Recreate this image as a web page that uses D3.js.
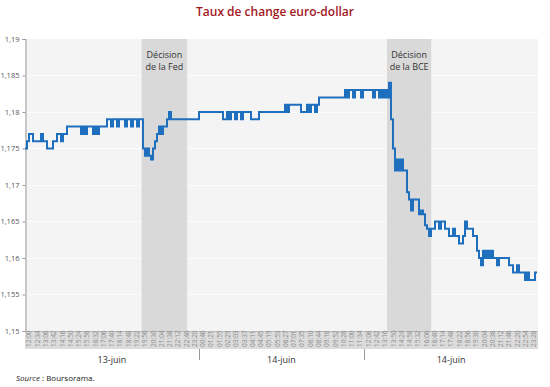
<!DOCTYPE html>
<html><head><meta charset="utf-8">
<script src="https://cdn.jsdelivr.net/npm/d3@7"></script>
<style>body{margin:0;background:#fff}svg{display:block}</style>
</head><body>
<svg id="c" width="550" height="387"></svg>
<script>
const title = "Taux de change euro-dollar";
const source = "Boursorama.";
const yTicks = [1.15, 1.155, 1.16, 1.165, 1.17, 1.175, 1.18, 1.185, 1.19];
const timeLabels = ["12:00","12:34","13:08","13:42","14:16","14:50","15:24","15:58","16:32","17:06","17:40","18:14","18:48","19:22","19:56","20:30","21:04","21:38","22:12","22:46","23:20",
  "00:46","01:21","01:55","02:29","03:03","03:37","04:11","04:45","05:19","05:53","06:27","07:01","07:35","08:10","08:44","09:18","09:52","10:26","11:00","11:34",
  "12:08","12:42","13:16","13:50","14:24","14:58","15:32","16:06","16:40","17:14","17:48","18:22","18:56","19:30","20:04","20:38","21:12","21:46","22:20","22:54","23:28"];
const dayLabels = ["13-juin", "14-juin", "14-juin"];
const dayStart = [0, 21, 41];
const dayEnd = [21, 41, 62];
const eventLine1 = ["Décision", "Décision"];
const eventLine2 = ["de la Fed", "de la BCE"];
const eventStart = [14.1, 43.75];
const eventEnd = [19.6, 49.1];
const rates = [
 1.175,1.176,1.177,1.177,1.176,1.176,1.176,1.176,1.177,1.176,1.176,1.175,1.175,1.175,1.176,1.176,1.177,1.177,1.176,1.177,
 1.177,1.178,1.178,1.178,1.178,1.178,1.178,1.178,1.177,1.178,1.177,1.178,1.178,1.178,1.177,1.178,1.177,1.178,1.178,1.178,
 1.178,1.179,1.179,1.178,1.179,1.179,1.178,1.179,1.179,1.179,1.178,1.179,1.179,1.178,1.179,1.179,1.178,1.179,1.179,1.175,
 1.174,1.175,1.174,1.1735,1.175,1.176,1.177,1.178,1.177,1.178,1.178,1.179,1.180,1.179,1.179,1.179,1.179,1.179,1.179,1.179,
 1.179,1.179,1.179,1.179,1.179,1.179,1.179,1.180,1.180,1.180,1.180,1.180,1.180,1.180,1.180,1.180,1.180,1.180,1.180,1.179,
 1.179,1.180,1.179,1.180,1.180,1.179,1.180,1.180,1.179,1.180,1.180,1.180,1.180,1.179,1.179,1.179,1.179,1.180,1.180,1.180,
 1.180,1.180,1.180,1.180,1.180,1.180,1.180,1.180,1.180,1.180,1.181,1.180,1.181,1.181,1.181,1.181,1.181,1.181,1.180,1.180,
 1.180,1.181,1.180,1.181,1.181,1.180,1.181,1.182,1.182,1.182,1.182,1.182,1.182,1.182,1.182,1.182,1.182,1.182,1.182,1.182,
 1.183,1.182,1.183,1.183,1.182,1.183,1.183,1.183,1.182,1.183,1.183,1.183,1.183,1.183,1.182,1.183,1.183,1.182,1.183,1.182,
 1.183,1.182,1.184,1.179,1.175,1.172,1.1735,1.172,1.1735,1.172,1.172,1.169,1.168,1.1665,1.168,1.168,1.168,1.166,1.1665,1.166,
 1.1645,1.164,1.163,1.164,1.164,1.165,1.165,1.164,1.165,1.165,1.164,1.164,1.163,1.163,1.164,1.163,1.163,1.162,1.162,1.163,
 1.165,1.164,1.164,1.164,1.163,1.163,1.161,1.160,1.159,1.161,1.160,1.161,1.160,1.161,1.160,1.160,1.159,1.160,1.160,1.160,
 1.160,1.160,1.159,1.159,1.158,1.158,1.159,1.158,1.158,1.158,1.157,1.158,1.157,1.157,1.157,1.158,1.158
];

const svg = d3.select("#c");
const font = "'Open Sans', 'Noto Sans', sans-serif";
const L = 25, R = 538, T = 39, B = 331;

const x = d3.scaleLinear().domain([0, timeLabels.length]).range([L, R]);
const xd = d3.scaleLinear().domain([0, rates.length - 1]).range([L, R - 1]);
const y = d3.scaleLinear().domain([1.15, 1.19]).range([B, T]);

// title
svg.append("text").attr("x", 275).attr("y", 16).attr("text-anchor", "middle")
  .attr("font-family", font).attr("font-size", 12).attr("font-weight", 600)
  .attr("fill", "#a3181d").text(title);

// plot background
svg.append("rect").attr("x", L).attr("y", T).attr("width", R - L).attr("height", B - T).attr("fill", "#f4f4f4");

// gridlines
svg.append("g").selectAll("line").data(yTicks.slice(1, -1)).join("line")
  .attr("x1", L).attr("x2", R).attr("y1", d => Math.round(y(d)) + 0.5).attr("y2", d => Math.round(y(d)) + 0.5)
  .attr("stroke", "#fcfcfc").attr("stroke-width", 1);

// event bands
svg.append("g").selectAll("rect").data(eventStart).join("rect")
  .attr("x", d => x(d)).attr("y", T).attr("width", (d, i) => x(eventEnd[i]) - x(d)).attr("height", B - T)
  .attr("fill", "#d9d9d9");

const ev = svg.append("g").attr("font-family", font).attr("font-size", 9).attr("fill", "#333").attr("text-anchor", "middle");
eventStart.forEach((s, i) => {
  const cx = (x(s) + x(eventEnd[i])) / 2;
  ev.append("text").attr("x", cx).attr("y", 58).text(eventLine1[i]);
  ev.append("text").attr("x", cx).attr("y", 70).text(eventLine2[i]);
});

// y axis
const yAxis = d3.axisLeft(y).tickValues(yTicks).tickSize(3).tickPadding(3)
  .tickFormat(d => d3.format(".3~f")(d).replace(".", ","));
const ga = svg.append("g").attr("transform", `translate(${L + 0.5},0)`).call(yAxis);
ga.select(".domain").attr("stroke", "#999");
ga.selectAll(".tick line").attr("stroke", "#999");
ga.selectAll("text").attr("font-family", font).attr("font-size", 7.5).attr("fill", "#555");

// x label band
svg.append("rect").attr("x", L).attr("y", B).attr("width", R - L).attr("height", 18).attr("fill", "#dcdcdc");
svg.append("line").attr("x1", L).attr("x2", R).attr("y1", B + 0.5).attr("y2", B + 0.5).attr("stroke", "#bbb");
svg.append("g").selectAll("text").data(timeLabels).join("text")
  .attr("transform", (d, i) => `translate(${x(i + 0.5) + 2.3},${B + 16}) rotate(-90)`)
  .attr("font-family", font).attr("font-size", 6.5).attr("fill", "#8a8a8a").text(d => d);

// day separators & labels
svg.append("g").selectAll("line").data(dayStart.slice(1)).join("line")
  .attr("x1", d => Math.round(x(d)) + 0.5).attr("x2", d => Math.round(x(d)) + 0.5)
  .attr("y1", B + 18).attr("y2", B + 29).attr("stroke", "#999");
svg.append("g").selectAll("text").data(dayLabels).join("text")
  .attr("x", (d, i) => x((dayStart[i] + dayEnd[i]) / 2)).attr("y", 363)
  .attr("text-anchor", "middle").attr("font-family", font).attr("font-size", 9).attr("fill", "#333").text(d => d);

// line
svg.append("path").datum(rates)
  .attr("d", d3.line().x((d, i) => xd(i)).y(d => y(d)).curve(d3.curveStepAfter))
  .attr("fill", "none").attr("stroke", "#1f6fbf").attr("stroke-width", 2);

// source
const st = svg.append("text").attr("x", 16).attr("y", 381).attr("font-family", font).attr("font-size", 8).attr("fill", "#222");
st.append("tspan").attr("font-style", "italic").text("Source");
st.append("tspan").text(" : " + source);
</script>
</body></html>
